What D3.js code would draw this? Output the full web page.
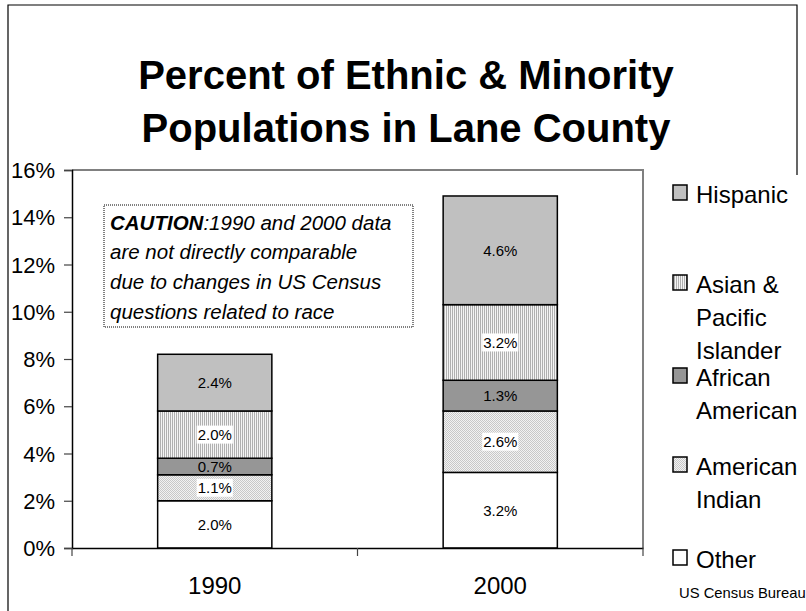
<!DOCTYPE html>
<html>
<head>
<meta charset="utf-8">
<script src="https://cdn.jsdelivr.net/npm/d3@7"></script>
<style>
  html, body { margin: 0; padding: 0; background: #fff; }
  svg { display: block; font-family: "Liberation Sans", Arial, Helvetica, sans-serif; }
</style>
</head>
<body>
<svg id="chart" width="806" height="611"></svg>
<script>
// Census years shown as stacked columns
const years = ["1990", "2000"];

// Percent of county population, per group (bottom of stack first)
const other = [2.0, 3.2];
const americanIndian = [1.1, 2.6];
const africanAmerican = [0.7, 1.3];
const asianPacific = [2.0, 3.2];
const hispanic = [2.4, 4.6];

const seriesKeys = ["other", "americanIndian", "africanAmerican", "asianPacific", "hispanic"];
const seriesValues = { other, americanIndian, africanAmerican, asianPacific, hispanic };

// Y axis tick values (percent)
const yTicks = [0, 2, 4, 6, 8, 10, 12, 14, 16];

// Legend entries, top to bottom, with their wrapped lines
const legendKeys = ["hispanic", "asianPacific", "africanAmerican", "americanIndian", "other"];
const legendLines = [
  ["Hispanic"],
  ["Asian &", "Pacific", "Islander"],
  ["African", "American"],
  ["American", "Indian"],
  ["Other"]
];

const titleLines = ["Percent of Ethnic & Minority", "Populations in Lane County"];
const cautionLead = "CAUTION";
const cautionLines = [":1990 and 2000 data", "are not directly comparable", "due to changes in US Census", "questions related to race"];
const sourceNote = "US Census Bureau";

const FONT = "'Liberation Sans', Arial, Helvetica, sans-serif";
const svg = d3.select("#chart");

// ---- fill patterns ----
const defs = svg.append("defs");
const vlines = defs.append("pattern")
  .attr("id", "vlines").attr("patternUnits", "userSpaceOnUse")
  .attr("width", 2).attr("height", 2);
vlines.append("rect").attr("width", 2).attr("height", 2).attr("fill", "#f4f4f4");
vlines.append("rect").attr("width", 1).attr("height", 2).attr("fill", "#b0b0b0");

const dots = defs.append("pattern")
  .attr("id", "dots").attr("patternUnits", "userSpaceOnUse")
  .attr("width", 2).attr("height", 2);
dots.append("rect").attr("width", 2).attr("height", 2).attr("fill", "#f2f2f2");
dots.append("rect").attr("width", 1).attr("height", 1).attr("fill", "#c8c8c8");
dots.append("rect").attr("x", 1).attr("y", 1).attr("width", 1).attr("height", 1).attr("fill", "#c8c8c8");

const fills = {
  other: "#ffffff",
  americanIndian: "url(#dots)",
  africanAmerican: "#969696",
  asianPacific: "url(#vlines)",
  hispanic: "#c0c0c0"
};
const patterned = { americanIndian: true, asianPacific: true };

// ---- outer frame (left and top edges, short right edge above the legend) ----
svg.append("path")
  .attr("d", "M8,620V5H797V175")
  .attr("fill", "none").attr("stroke", "#000").attr("stroke-width", 1.2);

// ---- title ----
svg.append("g").selectAll("text").data(titleLines).join("text")
  .attr("x", 406).attr("y", (d, i) => 89 + i * 53)
  .attr("text-anchor", "middle")
  .attr("font-size", 40).attr("font-weight", "bold")
  .text(d => d);

// ---- plot area ----
const plot = { left: 72, right: 643, top: 170, bottom: 548 };

const x = d3.scaleBand().domain(years).range([plot.left, plot.right]);
const y = d3.scaleLinear().domain([0, 16]).range([plot.bottom, plot.top]);
const barWidth = x.bandwidth() * 0.4;

// plot area border (top and right)
svg.append("path")
  .attr("d", `M${plot.left},${plot.top}H${plot.right}V${plot.bottom}`)
  .attr("fill", "none").attr("stroke", "#808080").attr("stroke-width", 2);

// stacked columns
const rows = years.map((yr, i) => {
  const r = { year: yr };
  seriesKeys.forEach(k => r[k] = seriesValues[k][i]);
  return r;
});
const stacked = d3.stack().keys(seriesKeys)(rows);

const barLayer = svg.append("g");
stacked.forEach(layer => {
  barLayer.append("g").selectAll("rect").data(layer).join("rect")
    .attr("x", d => x(d.data.year) + (x.bandwidth() - barWidth) / 2)
    .attr("width", barWidth)
    .attr("y", d => y(d[1]))
    .attr("height", d => y(d[0]) - y(d[1]))
    .attr("fill", fills[layer.key])
    .attr("stroke", "#000").attr("stroke-width", 1.5);
});

// value labels
const fmt = v => d3.format(".1f")(v) + "%";
const labelLayer = svg.append("g").attr("font-size", 15);
stacked.forEach(layer => {
  layer.forEach(d => {
    const cx = x(d.data.year) + x.bandwidth() / 2;
    const cy = (y(d[0]) + y(d[1])) / 2;
    const g = labelLayer.append("g");
    const t = g.append("text")
      .attr("x", cx).attr("y", cy + 5.5)
      .attr("text-anchor", "middle")
      .attr("fill", "#000")
      .text(fmt(d.data[layer.key]));
    if (patterned[layer.key]) {
      const b = t.node().getBBox();
      g.insert("rect", "text")
        .attr("x", b.x - 1).attr("y", cy - 9)
        .attr("width", b.width + 2).attr("height", 18)
        .attr("fill", "#fff");
    }
  });
});

// y axis
const yAxis = svg.append("g")
  .attr("transform", `translate(${plot.left},0)`)
  .call(d3.axisLeft(y).tickValues(yTicks).tickSize(8).tickPadding(9).tickFormat(d => d + "%"));
yAxis.select(".domain").attr("stroke", "#000").attr("stroke-width", 1.5);
yAxis.selectAll(".tick line").attr("stroke", "#444").attr("stroke-width", 1.2);
yAxis.selectAll(".tick text")
  .attr("font-size", 22).attr("font-family", FONT)
  .attr("fill", "#000").attr("dy", "0.35em");

// x axis
const xAxis = svg.append("g")
  .attr("transform", `translate(0,${plot.bottom})`)
  .call(d3.axisBottom(x).tickSize(0).tickPadding(46));
xAxis.select(".domain").attr("stroke", "#000").attr("stroke-width", 1.5);
xAxis.selectAll(".tick text")
  .attr("font-size", 24).attr("font-family", FONT)
  .attr("fill", "#000").attr("dy", 0);
// category divider ticks
const dividers = [plot.left].concat(years.map(yr => x(yr) + x.bandwidth()));
xAxis.append("g").selectAll("line").data(dividers).join("line")
  .attr("x1", d => d).attr("x2", d => d)
  .attr("y1", 0).attr("y2", 8)
  .attr("stroke", "#444").attr("stroke-width", 1.2);

// ---- caution note ----
const note = svg.append("g");
note.append("rect")
  .attr("x", 104).attr("y", 205).attr("width", 309).attr("height", 122)
  .attr("fill", "#fff").attr("stroke", "#000").attr("stroke-width", 1)
  .attr("stroke-dasharray", "1,1");
const noteText = note.append("g").attr("font-size", 20.5).attr("font-style", "italic");
const first = noteText.append("text").attr("x", 110).attr("y", 230);
first.append("tspan").attr("font-weight", "bold").text(cautionLead);
first.append("tspan").text(cautionLines[0]);
noteText.selectAll("text.rest").data(cautionLines.slice(1)).join("text")
  .attr("class", "rest")
  .attr("x", 110).attr("y", (d, i) => 259 + i * 30)
  .text(d => d);

// ---- legend ----
const legendBaselines = [203, 293, 386, 475, 568];
const legend = svg.append("g");
legendKeys.forEach((k, i) => {
  const by = legendBaselines[i];
  legend.append("rect")
    .attr("x", 673).attr("y", by - 18).attr("width", 14).attr("height", 15)
    .attr("fill", fills[k]).attr("stroke", "#000").attr("stroke-width", 1.5);
  legend.append("g").selectAll("text").data(legendLines[i]).join("text")
    .attr("x", 696).attr("y", (d, j) => by + j * 33)
    .attr("font-size", 24)
    .text(d => d);
});

// source note
svg.append("text")
  .attr("x", 679).attr("y", 598)
  .attr("font-size", 14.8)
  .text(sourceNote);
</script>
</body>
</html>
